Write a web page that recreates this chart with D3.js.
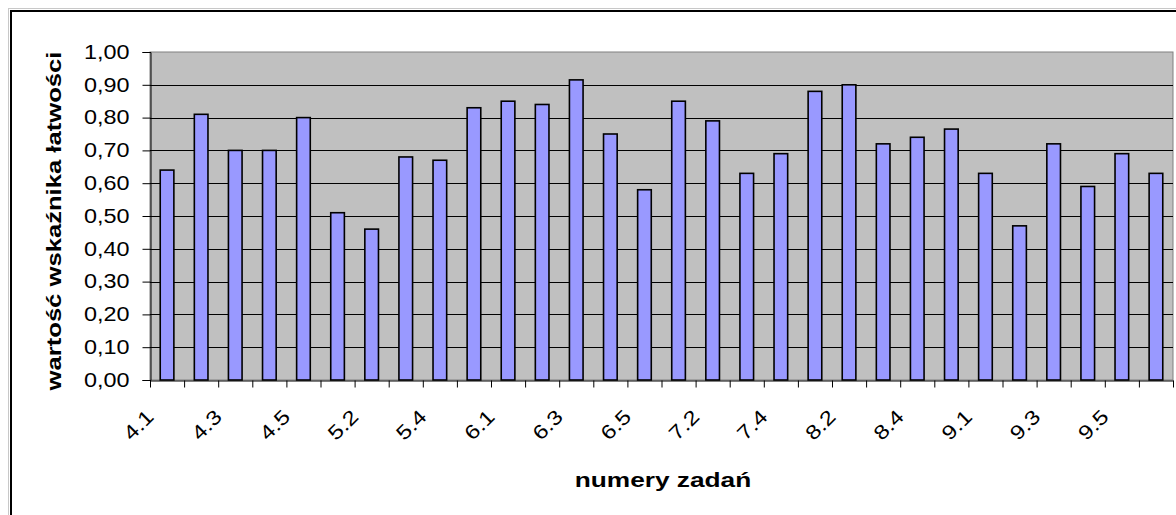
<!DOCTYPE html>
<html><head>
<meta charset="UTF-8">
<title>wskaźnik łatwości</title>
<script src="https://d3js.org/d3.v7.min.js"></script>
<style>
  body { margin: 0; background: #fff; }
  svg text { font-family: "Liberation Sans", Arial, sans-serif; fill: #000; }
  .bar { fill: #9999ff; stroke: #000; stroke-width: 1.6px; }
  .grid line { stroke: #000; stroke-width: 1px; }
  .axis path, .axis line { stroke: #000; stroke-width: 1px; }
</style>
</head>
<body>
<script>

// numery zadań (categories)
var categories = ["4.1","4.2","4.3","4.4","4.5",
                  "5.1","5.2","5.3","5.4","5.5",
                  "6.1","6.2","6.3","6.4","6.5",
                  "7.1","7.2","7.3","7.4",
                  "8.1","8.2","8.3","8.4","8.5",
                  "9.1","9.2","9.3","9.4","9.5","9.6"];

// wartość wskaźnika łatwości
var values = [0.64, 0.81, 0.70, 0.70, 0.80,
              0.51, 0.46, 0.68, 0.67, 0.83,
              0.85, 0.84, 0.915, 0.75, 0.58,
              0.85, 0.79, 0.63, 0.69,
              0.88, 0.90, 0.72, 0.74, 0.765,
              0.63, 0.47, 0.72, 0.59, 0.69, 0.63];

// y tick values
var yTicks = [0, 0.1, 0.2, 0.3, 0.4, 0.5, 0.6, 0.7, 0.8, 0.9, 1.0];

// only every second category gets a label
var xLabels = categories.filter(function(d, i){ return i % 2 === 0; });

var W = 1176, H = 515;
var plot = {left: 150, top: 52, right: 1173, bottom: 380};

var svg = d3.select("body").append("svg")
    .attr("width", W)
    .attr("height", H);

// stretch text a little along its baseline, the original font runs wide
function widen(sel, k) {
  sel.each(function(){
    var w = this.getComputedTextLength();
    this.setAttribute("textLength", w * k);
    this.setAttribute("lengthAdjust", "spacingAndGlyphs");
  });
}

// outer chart frame
svg.append("rect")
    .attr("x", 8.5).attr("y", 8.5)
    .attr("width", 1300).attr("height", 700)
    .attr("fill", "none").attr("stroke", "#c8c8c8").attr("stroke-width", 1);
svg.append("rect")
    .attr("x", 11).attr("y", 11)
    .attr("width", 1300).attr("height", 700)
    .attr("fill", "#fff").attr("stroke", "#000").attr("stroke-width", 2);

// scales
var x = d3.scaleBand()
    .domain(categories)
    .range([plot.left, plot.right])
    .paddingInner(0.6)
    .paddingOuter(0.3);

var xEdge = d3.scaleLinear()
    .domain([0, categories.length])
    .range([plot.left, plot.right]);

var y = d3.scaleLinear()
    .domain([0, 1])
    .range([plot.bottom, plot.top]);

// plot background
svg.append("rect")
    .attr("x", plot.left).attr("y", plot.top)
    .attr("width", plot.right - plot.left)
    .attr("height", plot.bottom - plot.top)
    .attr("fill", "#c0c0c0")
    .attr("stroke", "#808080")
    .attr("stroke-width", 1);

// gridlines
svg.append("g").attr("class", "grid")
  .selectAll("line")
  .data(yTicks.filter(function(d){ return d > 0 && d < 1; }))
  .enter().append("line")
    .attr("x1", plot.left).attr("x2", plot.right)
    .attr("y1", function(d){ return Math.round(y(d)) + 0.5; })
    .attr("y2", function(d){ return Math.round(y(d)) + 0.5; });

// bars
svg.append("g")
  .selectAll("rect")
  .data(values)
  .enter().append("rect")
    .attr("class", "bar")
    .attr("x", function(d, i){ return x(categories[i]); })
    .attr("width", x.bandwidth())
    .attr("y", function(d){ return y(d); })
    .attr("height", function(d){ return y(0) - y(d); });

// y axis
var fmt = d3.format(".2f");
var yAxis = d3.axisLeft(y)
    .tickValues(yTicks)
    .tickSize(8)
    .tickPadding(13)
    .tickFormat(function(d){ return fmt(d).replace(".", ","); });

var gy = svg.append("g").attr("class", "axis")
    .attr("transform", "translate(" + (plot.left + 0.5) + ",0)")
    .call(yAxis);
gy.selectAll("text").style("font-size", "19.5px");
widen(gy.selectAll("text"), 1.2);

// x axis: tick marks between categories
var xAxis = d3.axisBottom(xEdge)
    .tickValues(d3.range(categories.length + 1))
    .tickSize(7)
    .tickSizeOuter(0)
    .tickFormat("");

svg.append("g").attr("class", "axis")
    .attr("transform", "translate(0," + (plot.bottom + 0.5) + ")")
    .call(xAxis);

// x labels, rotated
var lbl = svg.append("g")
  .selectAll("text")
  .data(xLabels)
  .enter().append("text")
    .attr("text-anchor", "end")
    .style("font-size", "20px")
    .attr("transform", function(d){
      var cx = x(d) + x.bandwidth() / 2;
      return "translate(" + (cx - 12) + ",418) rotate(-45)";
    })
    .text(function(d){ return d; });
widen(lbl, 1.2);

// axis titles
var xt = svg.append("text")
    .attr("x", 663).attr("y", 487)
    .attr("text-anchor", "middle")
    .style("font-size", "21px")
    .style("font-weight", "bold")
    .text("numery zadań");
widen(xt, 1.25);

var yt = svg.append("text")
    .attr("transform", "translate(61,221) rotate(-90)")
    .attr("text-anchor", "middle")
    .style("font-size", "21px")
    .style("font-weight", "bold")
    .text("wartość wskaźnika łatwości");
widen(yt, 1.22);

</script>
</body>
</html>
